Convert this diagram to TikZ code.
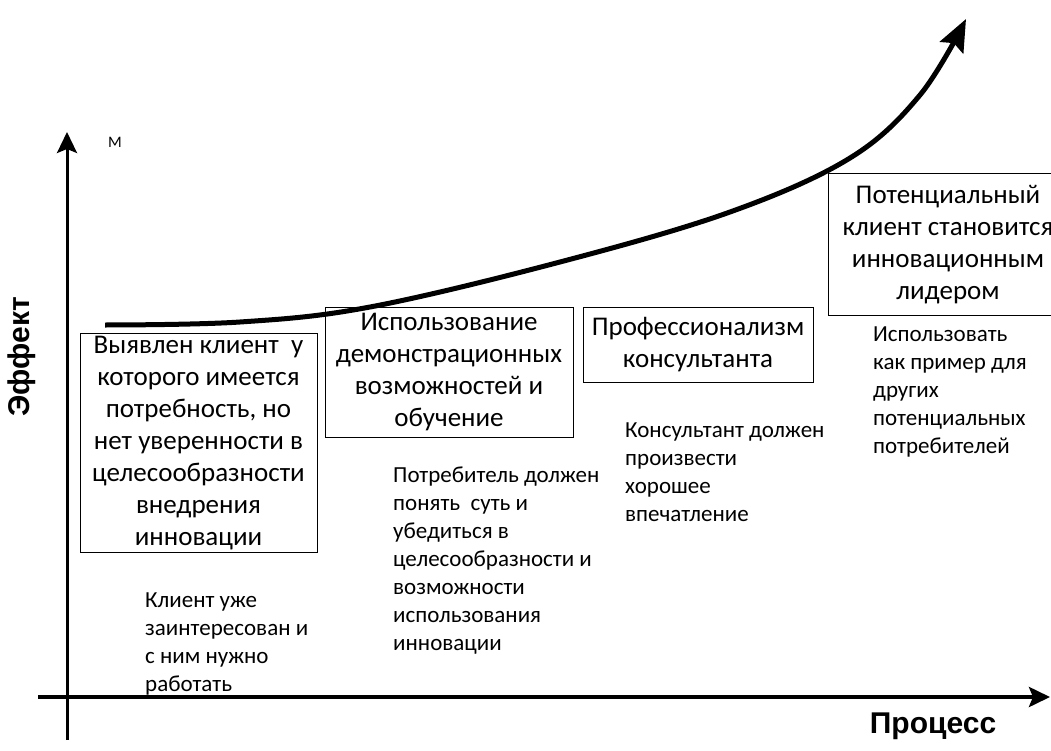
\documentclass[tikz,border=0pt]{standalone}
\usepackage{fontspec}
\setmainfont{Carlito}
\newfontfamily\labfont{Liberation Sans}
\usetikzlibrary{arrows.meta}
\begin{document}
\begin{tikzpicture}[x=1pt,y=-1pt,
  box/.style={draw, line width=1pt, align=center, inner sep=0pt, font=\fontsize{27}{32}\selectfont},
  note/.style={align=left, anchor=north west, inner sep=0pt, font=\fontsize{23}{28}\selectfont},
  axislab/.style={font=\labfont\bfseries\fontsize{30}{34}\selectfont, inner sep=0pt},
  axis/.style={-{Stealth[length=21pt,width=20pt,inset=4pt]}}]
\useasboundingbox (0,0) rectangle (1051,751);
% axes
\coordinate (yb) at (67,740);
\coordinate (yt) at (67,132);
\coordinate (xl) at (38,697);
\coordinate (xr) at (1050,697);
\draw[axis, line width=3pt] (yb) -- (yt);
\draw[axis, line width=4pt] (xl) -- (xr);
\node[axislab, rotate=90] (ylab) at (22,357) {Эффект};
\node[axislab, anchor=base] (xlab) at (933,733) {Процесс};
\node[font=\fontsize{16}{18}\selectfont, inner sep=0pt] (m) at (115,142) {М};
% curve
\draw[line width=5pt, -{Stealth[length=32pt,width=26pt,inset=5pt]}]
  plot[smooth, tension=0.6] coordinates {(105,325) (240,322) (370,307) (560,262) (730,212) (850,158) (920,95) (966,19)};
% boxes
\node[box, minimum width=237pt, minimum height=219pt] (b1) at (198.5,443)
  {Выявлен клиент\ \ у\\ которого имеется\\ потребность, но\\ нет уверенности в\\ целесообразности\\ внедрения\\ инновации};
\node[box, minimum width=248pt, minimum height=130pt] (b2) at (449,372)
  {Использование\\ демонстрационных\\ возможностей и\\ обучение};
\node[box, minimum width=230pt, minimum height=75pt] (b3) at (698,344.5)
  {Профессионализм\\ консультанта};
\node[box, minimum width=240pt, minimum height=141pt] (b4) at (948,244.5)
  {Потенциальный\\ клиент становится\\ инновационным\\ лидером};
% notes
\node[note] (n1) at (145,593) {Клиент уже\\ заинтересован и\\ с ним нужно\\ работать};
\node[note] (n2) at (393,467) {Потребитель должен\\ понять\ \ суть и\\ убедиться в\\ целесообразности и\\ возможности\\ использования\\ инновации};
\node[note] (n3) at (625,423) {Консультант должен\\ произвести\\ хорошее\\ впечатление};
\node[note] (n4) at (873,327) {Использовать\\ как пример для\\ других\\ потенциальных\\ потребителей};
\end{tikzpicture}
\end{document}
